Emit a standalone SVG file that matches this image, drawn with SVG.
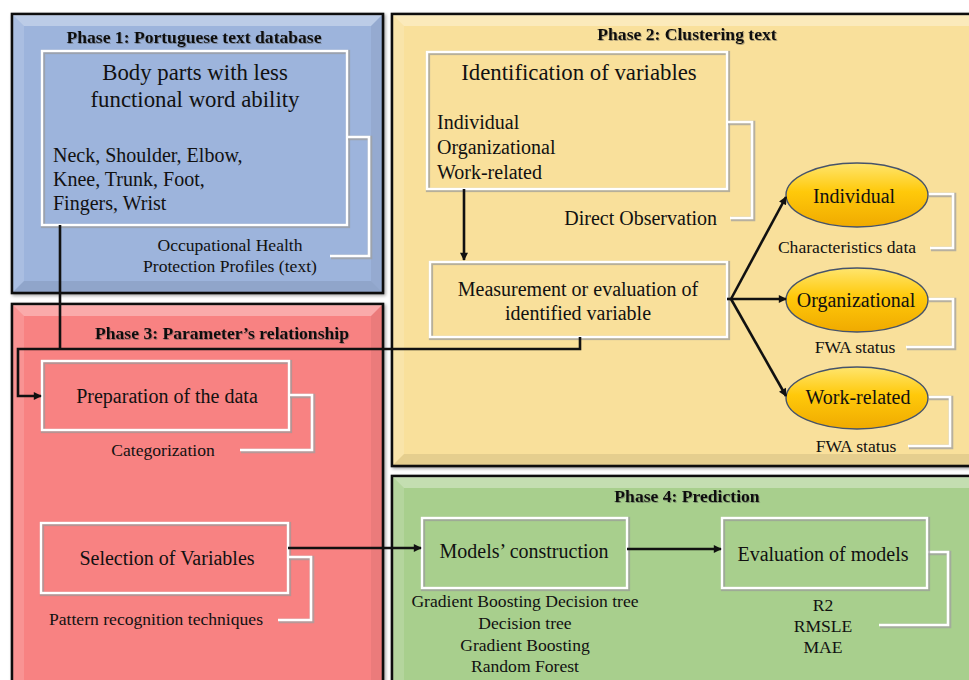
<svg xmlns="http://www.w3.org/2000/svg" width="969" height="680" viewBox="0 0 969 680">
  <style>
    text { font-family: "Liberation Serif", "Times New Roman", serif; fill: #111; }
    .title { font-weight: bold; font-size: 17.6px; text-anchor: middle; filter: url(#txtShadow); }
    .big { font-size: 22.8px; text-anchor: middle; }
    .mid { font-size: 20px; }
    .c { text-anchor: middle; }
    .e { text-anchor: end; }
    .small { font-size: 17.6px; }
    .panel { stroke: #111; stroke-width: 2.6; filter: url(#panelShadow); }
    .bevTop { fill: #fff; fill-opacity: 0.32; }
    .bevLeft { fill: #fff; fill-opacity: 0.14; }
    .bevRight { fill: #000; fill-opacity: 0.05; }
    .bevBottom { fill: #000; fill-opacity: 0.08; }
    .boxUnder { fill: none; stroke: #9a9a9a; stroke-width: 4.2; stroke-opacity: 0.7; }
    .box { fill: none; stroke: #fff; stroke-width: 2.4; }
    .brUnder { fill: none; stroke: #a0a0a0; stroke-width: 4.6; stroke-opacity: 0.75; }
    .br { fill: none; stroke: #fff; stroke-width: 2.6; }
    .ell { fill: url(#gold); stroke: #46536a; stroke-width: 1.4; }
    .wire { fill: none; stroke: #111; stroke-width: 2.6; }
    .arrow { marker-end: url(#head); }
  </style>
  <defs>
    <filter id="txtShadow" x="-5%" y="-30%" width="110%" height="160%">
      <feDropShadow dx="0.8" dy="1" stdDeviation="0.7" flood-color="#444" flood-opacity="0.45"/>
    </filter>
    <filter id="panelShadow" x="-5%" y="-5%" width="110%" height="110%">
      <feDropShadow dx="1.5" dy="1.5" stdDeviation="1.5" flood-color="#000" flood-opacity="0.35"/>
    </filter>
    <linearGradient id="gold" x1="0" y1="0" x2="0" y2="1">
      <stop offset="0" stop-color="#ffe56e"/>
      <stop offset="0.45" stop-color="#ffc90a"/>
      <stop offset="1" stop-color="#f0aa00"/>
    </linearGradient>
    <marker id="head" viewBox="0 0 10 10" refX="9" refY="5" markerWidth="9" markerHeight="8" markerUnits="userSpaceOnUse" orient="auto">
      <path d="M0,0 L10,5 L0,10 z" fill="#111"/>
    </marker>
  </defs>

  <rect width="969" height="680" fill="#fff"/>

  <!-- Phase panels -->
  <g id="phase1">
    <rect class="panel" x="12" y="14" width="371" height="279" fill="#9db4dc"/>
    <polygon class="bevTop" points="13,15 382,15 371,26 24,26"/>
    <polygon class="bevLeft" points="13,15 24,26 24,281 13,292"/>
    <polygon class="bevRight" points="382,15 382,292 371,281 371,26"/>
    <polygon class="bevBottom" points="13,292 24,281 371,281 382,292"/>
    <text class="title" x="194" y="43">Phase 1: Portuguese text database</text>
  </g>
  <g id="phase2">
    <rect class="panel" x="392" y="14" width="600" height="452" fill="#f9e09b"/>
    <polygon class="bevTop" points="393,15 991,15 980,26 404,26"/>
    <polygon class="bevLeft" points="393,15 404,26 404,454 393,465"/>
    <polygon class="bevBottom" points="393,465 404,454 980,454 991,465"/>
    <text class="title" x="687" y="40">Phase 2: Clustering text</text>
  </g>
  <g id="phase3">
    <rect class="panel" x="12" y="304" width="371" height="400" fill="#f88282"/>
    <polygon class="bevTop" points="13,305 382,305 371,316 24,316"/>
    <polygon class="bevLeft" points="13,305 24,316 24,703 13,703"/>
    <polygon class="bevRight" points="382,305 382,703 371,703 371,316"/>
    <text class="title" x="222" y="339">Phase 3: Parameter’s relationship</text>
  </g>
  <g id="phase4">
    <rect class="panel" x="392" y="476" width="600" height="230" fill="#a8cf8d"/>
    <polygon class="bevTop" points="393,477 991,477 980,488 404,488"/>
    <polygon class="bevLeft" points="393,477 404,488 404,705 393,705"/>
    <text class="title" x="687" y="502">Phase 4: Prediction</text>
  </g>

  <!-- Phase 1 content -->
  <g id="body-parts">
    <rect class="boxUnder" x="43" y="52" width="305" height="174"/>
    <rect class="box" x="42" y="51" width="305" height="174"/>
    <text class="big" x="195" y="80">Body parts with less</text>
    <text class="big" x="195" y="107">functional word ability</text>
    <text class="mid" x="53" y="162">Neck, Shoulder, Elbow,</text>
    <text class="mid" x="53" y="186">Knee, Trunk, Foot,</text>
    <text class="mid" x="53" y="210">Fingers, Wrist</text>
  </g>
  <g id="profiles-note">
    <path class="brUnder" d="M348,138 H370 V257 H331"/>
    <path class="br" d="M347,137 H369 V256 H330"/>
    <text class="small c" x="230" y="251">Occupational Health</text>
    <text class="small c" x="230" y="272">Protection Profiles (text)</text>
  </g>

  <!-- Phase 2 content -->
  <g id="identification">
    <rect class="boxUnder" x="428" y="53" width="300" height="137"/>
    <rect class="box" x="427" y="52" width="300" height="137"/>
    <text class="big" x="579" y="80">Identification of variables</text>
    <text class="mid" x="437" y="129">Individual</text>
    <text class="mid" x="437" y="154">Organizational</text>
    <text class="mid" x="437" y="179">Work-related</text>
  </g>
  <g id="direct-observation">
    <path class="brUnder" d="M728,123 H753 V219 H731"/>
    <path class="br" d="M727,122 H752 V218 H730"/>
    <text class="mid e" x="717" y="225">Direct Observation</text>
  </g>
  <g id="measurement">
    <rect class="boxUnder" x="431" y="263" width="297" height="75"/>
    <rect class="box" x="430" y="262" width="297" height="75"/>
    <text class="mid c" x="578" y="296">Measurement or evaluation of</text>
    <text class="mid c" x="578" y="320">identified variable</text>
  </g>
  <g id="individual">
    <path class="brUnder" d="M929,195 H954 V249 H931"/>
    <path class="br" d="M928,194 H953 V248 H930"/>
    <ellipse class="ell" cx="857" cy="195" rx="71" ry="32"/>
    <text class="mid c" x="854" y="203">Individual</text>
    <text class="small c" x="847" y="253">Characteristics data</text>
  </g>
  <g id="organizational">
    <path class="brUnder" d="M929,300 H954 V348 H907"/>
    <path class="br" d="M928,299 H953 V347 H906"/>
    <ellipse class="ell" cx="857" cy="300" rx="71" ry="32"/>
    <text class="mid c" x="856" y="307">Organizational</text>
    <text class="small c" x="855" y="353">FWA status</text>
  </g>
  <g id="work-related">
    <path class="brUnder" d="M929,398 H951 V447 H909"/>
    <path class="br" d="M928,397 H950 V446 H908"/>
    <ellipse class="ell" cx="857" cy="398" rx="71" ry="31"/>
    <text class="mid c" x="858" y="404">Work-related</text>
    <text class="small c" x="856" y="452">FWA status</text>
  </g>

  <!-- Phase 3 content -->
  <g id="preparation">
    <rect class="boxUnder" x="43" y="362" width="247" height="69"/>
    <rect class="box" x="42" y="361" width="247" height="69"/>
    <text class="mid c" x="167" y="403">Preparation of the data</text>
  </g>
  <g id="categorization">
    <path class="brUnder" d="M290,396 H313 V451 H241"/>
    <path class="br" d="M289,395 H312 V450 H240"/>
    <text class="small c" x="163" y="456">Categorization</text>
  </g>
  <g id="selection">
    <rect class="boxUnder" x="42" y="524" width="247" height="70"/>
    <rect class="box" x="41" y="523" width="247" height="70"/>
    <text class="mid c" x="167" y="565">Selection of Variables</text>
  </g>
  <g id="pattern-recognition">
    <path class="brUnder" d="M289,558 H312 V621 H279"/>
    <path class="br" d="M288,557 H311 V620 H278"/>
    <text class="small c" x="156" y="625">Pattern recognition techniques</text>
  </g>

  <!-- Phase 4 content -->
  <g id="models">
    <rect class="boxUnder" x="423" y="519" width="205" height="70"/>
    <rect class="box" x="422" y="518" width="205" height="70"/>
    <text class="mid c" x="524" y="558">Models’ construction</text>
    <text class="small c" x="525" y="607">Gradient Boosting Decision tree</text>
    <text class="small c" x="525" y="629">Decision tree</text>
    <text class="small c" x="525" y="651">Gradient Boosting</text>
    <text class="small c" x="525" y="672">Random Forest</text>
  </g>
  <g id="evaluation">
    <path class="brUnder" d="M928,553 H949 V626 H880"/>
    <path class="br" d="M927,552 H948 V625 H879"/>
    <rect class="boxUnder" x="723" y="519" width="205" height="70"/>
    <rect class="box" x="722" y="518" width="205" height="70"/>
    <text class="mid c" x="823" y="561">Evaluation of models</text>
    <text class="small c" x="823" y="611">R2</text>
    <text class="small c" x="823" y="632">RMSLE</text>
    <text class="small c" x="823" y="653">MAE</text>
  </g>

  <!-- Connectors -->
  <g id="connectors">
    <path class="wire" d="M60,225 V349"/>
    <path class="wire arrow" d="M580,337 V349 H18 V396 H41"/>
    <path class="wire arrow" d="M464,189 V260"/>
    <path class="wire" d="M727,299 H731"/>
    <path class="wire arrow" d="M731,299 L786,197"/>
    <path class="wire arrow" d="M731,299 H786"/>
    <path class="wire arrow" d="M731,299 L786,396"/>
    <path class="wire arrow" d="M288,548 H421"/>
    <path class="wire arrow" d="M627,549 H721"/>
  </g>
</svg>
